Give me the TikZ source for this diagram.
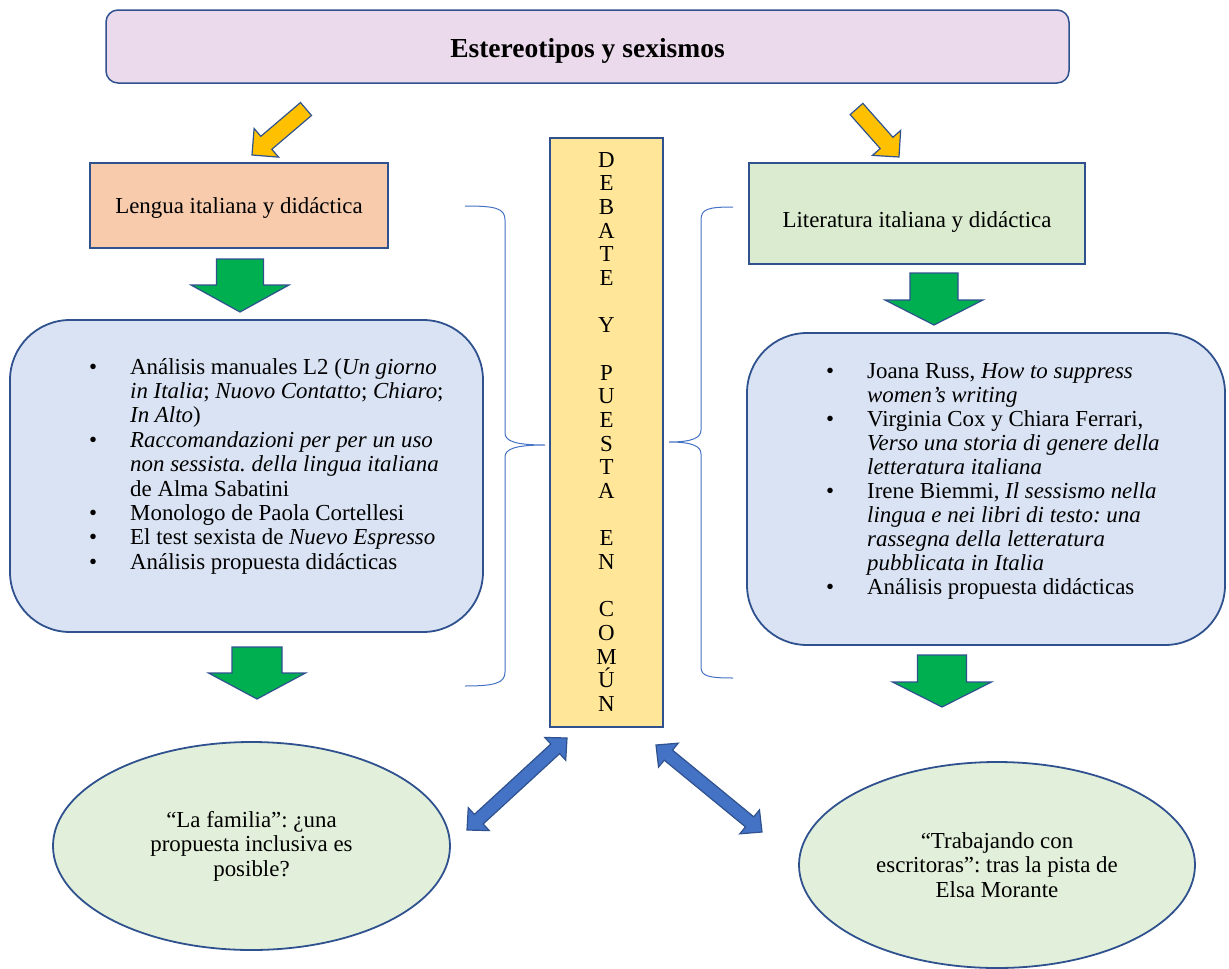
\documentclass[tikz,border=0pt]{standalone}
\usepackage{fontspec}
\setmainfont{Liberation Serif}
\usetikzlibrary{calc,shapes.geometric}
\definecolor{bord}{HTML}{2F528F}
\definecolor{titlefill}{HTML}{EBDAEB}
\definecolor{peach}{HTML}{F8CBAD}
\definecolor{litgreen}{HTML}{DAEBCF}
\definecolor{lblue}{HTML}{DAE3F3}
\definecolor{ellgreen}{HTML}{E2EFDA}
\definecolor{ybox}{HTML}{FFE699}
\definecolor{yarr}{HTML}{FFC000}
\definecolor{garr}{HTML}{00B050}
\definecolor{barr}{HTML}{4472C4}
\frenchspacing
% single block arrow: style, tail, tip, shaft half width, head half width, head length
\newcommand{\blockarrow}[6]{%
  \coordinate (#2h) at ($(#3)!#6!(#2)$);
  \draw[#1] ($(#2)!#4!90:(#3)$) -- ($(#2h)!#4!90:(#3)$) -- ($(#2h)!#5!90:(#3)$) -- (#3)
    -- ($(#2h)!#5!-90:(#3)$) -- ($(#2h)!#4!-90:(#3)$) -- ($(#2)!#4!-90:(#3)$) -- cycle;}
% double block arrow: style, end A, end B, shaft half width, head half width, head length
\newcommand{\dblarrow}[6]{%
  \coordinate (#2h) at ($(#2)!#6!(#3)$);
  \coordinate (#3h) at ($(#3)!#6!(#2)$);
  \draw[#1] (#2) -- ($(#2h)!#5!90:(#3)$) -- ($(#2h)!#4!90:(#3)$) -- ($(#3h)!#4!90:(#3)$)
    -- ($(#3h)!#5!90:(#3)$) -- (#3) -- ($(#3h)!#5!-90:(#3)$) -- ($(#3h)!#4!-90:(#3)$)
    -- ($(#2h)!#4!-90:(#3)$) -- ($(#2h)!#5!-90:(#3)$) -- cycle;}
\newcommand{\bl}[1]{\hbox{\makebox[41pt][l]{•}#1}}
\newcommand{\cl}[1]{\hbox{\hspace*{41pt}#1}}
\newcommand{\lt}[1]{\hbox to 0pt{\hss #1\hss}}
\begin{document}
\begin{tikzpicture}[x=1pt,y=-1pt,
  body/.style={font=\fontsize{22.9pt}{24.4pt}\selectfont, text=black},
  tbox/.style={draw=bord, line width=1.5pt, fill=titlefill, rounded corners=12pt},
  sqbox/.style={draw=bord, line width=1.5pt},
  listbox/.style={draw=bord, line width=1.8pt, fill=lblue, rounded corners=60pt},
  ell/.style={ellipse, draw=bord, line width=1.8pt, fill=ellgreen, align=center, inner sep=0pt},
  yarrow/.style={draw=bord, line width=1.2pt, fill=yarr, line join=miter},
  garrow/.style={draw=bord, line width=1.2pt, fill=garr, line join=miter},
  barrow/.style={draw=bord, line width=1.2pt, fill=barr, line join=miter},
  brace/.style={draw=barr, line width=1pt},
]
\useasboundingbox (0,0) rectangle (1229,969);

% title
\node[tbox, minimum width=963pt, minimum height=73pt, text height=27pt, text depth=6pt,
      font=\fontsize{27.5pt}{30pt}\selectfont\bfseries] (title) at (587.5,46.5) {Estereotipos y sexismos};

% second level boxes
\node[sqbox, fill=peach, minimum width=298pt, minimum height=85pt, body,
      text height=20.6pt, text depth=5pt] (lengua) at (239,205.5) {Lengua italiana y didáctica};
\node[sqbox, fill=litgreen, minimum width=336pt, minimum height=101pt, body,
      text height=32pt, text depth=5pt] (lit) at (917,213.5) {Literatura italiana y didáctica};

% list boxes
\node[listbox, minimum width=473pt, minimum height=312pt] (lbox) at (246.5,476) {};
\node[body, anchor=base west, inner sep=0pt] (ltext) at (89,374) {\vtop{%
  \bl{Análisis manuales L2 (\textit{Un giorno}}
  \cl{\textit{in Italia}; \textit{Nuovo Contatto}; \textit{Chiaro};}
  \cl{\textit{In Alto})}
  \bl{\textit{Raccomandazioni per per un uso}}
  \cl{\textit{non sessista. della lingua italiana}}
  \cl{de Alma Sabatini}
  \bl{Monologo de Paola Cortellesi}
  \bl{El test sexista de \textit{Nuevo Espresso}}
  \bl{Análisis propuesta didácticas}}};

\node[listbox, minimum width=478pt, minimum height=312pt] (rbox) at (986,489) {};
\node[body, font=\fontsize{22.9pt}{24pt}\selectfont, anchor=base west, inner sep=0pt] (rtext) at (826,378) {\vtop{%
  \bl{Joana Russ, \textit{How to suppress}}
  \cl{\textit{women’s writing}}
  \bl{Virginia Cox y Chiara Ferrari,}
  \cl{\textit{Verso una storia di genere della}}
  \cl{\textit{letteratura italiana}}
  \bl{Irene Biemmi, \textit{Il sessismo nella}}
  \cl{\textit{lingua e nei libri di testo: una}}
  \cl{\textit{rassegna della letteratura}}
  \cl{\textit{pubblicata in Italia}}
  \bl{Análisis propuesta didácticas}}};

% central vertical box
\node[sqbox, fill=ybox, minimum width=113pt, minimum height=589pt] (debate) at (606.5,432.5) {};
\node[body, font=\fontsize{22.9pt}{23.67pt}\selectfont, anchor=base, inner sep=0pt] (debatetxt) at (606.5,167) {\vtop{%
  \lt{D}\lt{E}\lt{B}\lt{A}\lt{T}\lt{E}\hbox{}
  \lt{Y}\hbox{}
  \lt{P}\lt{U}\lt{E}\lt{S}\lt{T}\lt{A}\hbox{}
  \lt{E}\lt{N}\hbox{}
  \lt{C}\lt{O}\lt{M}\lt{Ú}\lt{N}}};

% braces
\draw[brace] (465,206) .. controls (495,206) and (505,208) .. (505,220) -- (505,433)
  .. controls (505,441) and (515,445) .. (545,445)
  .. controls (515,445) and (505,449) .. (505,457) -- (505,672)
  .. controls (505,683) and (495,686) .. (465,686);
\draw[brace] (733,207) .. controls (708,207) and (701,209) .. (701,220) -- (701,430)
  .. controls (701,438) and (692,442) .. (669,442)
  .. controls (692,442) and (701,446) .. (701,454) -- (701,667)
  .. controls (701,676) and (708,678) .. (733,678);

% ellipses
\node[ell, body, minimum width=397pt, minimum height=208pt] (fam) at (251.5,846)
  {“La familia”: ¿una\\propuesta inclusiva es\\posible?};
\node[ell, body, minimum width=396pt, minimum height=206pt] (trab) at (997,865)
  {“Trabajando con\\escritoras”: tras la pista de\\Elsa Morante};

% yellow arrows
\coordinate (ya1) at (306,109); \coordinate (ya1e) at (252,155);
\coordinate (ya2) at (856.5,109); \coordinate (ya2e) at (899,157);
\blockarrow{yarrow}{ya1}{ya1e}{8.5pt}{18.8pt}{18.8pt}
\blockarrow{yarrow}{ya2}{ya2e}{8.5pt}{18.8pt}{18.8pt}

% green arrows
\coordinate (ga1) at (240,259); \coordinate (ga1e) at (240,312);
\coordinate (ga2) at (934,273); \coordinate (ga2e) at (934,325);
\coordinate (ga3) at (257,647); \coordinate (ga3e) at (257,699);
\coordinate (ga4) at (942,655); \coordinate (ga4e) at (942,707);
\blockarrow{garrow}{ga1}{ga1e}{23.5pt}{49pt}{27pt}
\blockarrow{garrow}{ga2}{ga2e}{24pt}{49pt}{25pt}
\blockarrow{garrow}{ga3}{ga3e}{25pt}{48.5pt}{26pt}
\blockarrow{garrow}{ga4}{ga4e}{24.5pt}{49.5pt}{25pt}

% blue double arrows
\coordinate (ba1) at (467,830); \coordinate (ba1e) at (567,738);
\coordinate (ba2) at (656,745); \coordinate (ba2e) at (762,832);
\dblarrow{barrow}{ba1}{ba1e}{6.5pt}{15.5pt}{16pt}
\dblarrow{barrow}{ba2}{ba2e}{6.5pt}{15.5pt}{16pt}
\end{tikzpicture}
\end{document}
